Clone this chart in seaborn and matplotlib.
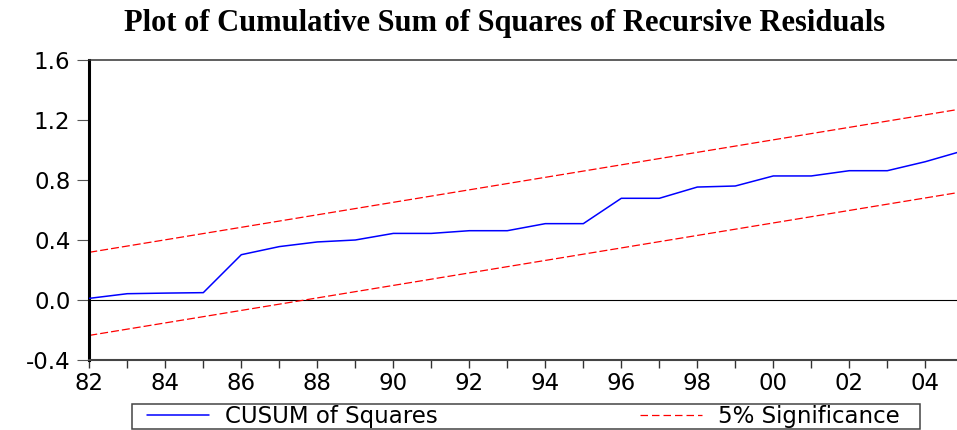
import numpy as np
import pandas as pd
import matplotlib
matplotlib.use("Agg")
import matplotlib.pyplot as plt
from matplotlib.lines import Line2D
from matplotlib.patches import Rectangle
from matplotlib.ticker import MultipleLocator, FuncFormatter
import seaborn as sns

# Data
years = [1982, 1983, 1984, 1985, 1986, 1987, 1988, 1989, 1990, 1991, 1992, 1993,
         1994, 1995, 1996, 1997, 1998, 1999, 2000, 2001, 2002, 2003, 2004, 2005]
cusum_sq = [0.011, 0.042, 0.046, 0.049, 0.302, 0.356, 0.387, 0.400, 0.444, 0.444, 0.462, 0.462,
            0.509, 0.509, 0.678, 0.678, 0.753, 0.760, 0.827, 0.827, 0.862, 0.862, 0.922, 0.995]
bound_years = [1982, 2005]
upper_bound = [0.318, 1.276]
lower_bound = [-0.236, 0.722]
y_ticks = [-0.4, 0.0, 0.4, 0.8, 1.2, 1.6]

sns.set_style("white")
plt.rcParams["font.family"] = ["DejaVu Sans"]
plt.rcParams["text.color"] = "black"

W, H = 957, 430
fig = plt.figure(figsize=(W / 100, H / 100), dpi=100)
ax = fig.add_axes([89.3 / W, 1 - 360 / H, 1 - 89.3 / W, 300 / H])

df = pd.DataFrame({"year": years, "value": cusum_sq})
bounds = pd.DataFrame({"year": bound_years, "upper": upper_bound, "lower": lower_bound})

ax.axhline(0, color="black", lw=0.8, zorder=1)
sns.lineplot(data=df, x="year", y="value", ax=ax, color="#0000ff", lw=1.1, zorder=3)
for col in ["upper", "lower"]:
    sns.lineplot(data=bounds, x="year", y=col, ax=ax, color="#ff0000", lw=0.9, zorder=2)
for ln in ax.lines[2:]:
    ln.set_dashes((6.4, 2.4))

ax.set_xlim(1982, 1982 + (W - 89.3) / 38)
ax.set_ylim(-0.4, 1.6)
ax.set_yticks(y_ticks)
ax.yaxis.set_major_formatter(FuncFormatter(lambda v, p: f"{v:.1f}"))
ax.xaxis.set_major_locator(MultipleLocator(2))
ax.xaxis.set_minor_locator(MultipleLocator(1))
ax.xaxis.set_major_formatter(FuncFormatter(lambda v, p: f"{int(round(v)) % 100:02d}"))
ax.set_xlabel("")
ax.set_ylabel("")

ax.tick_params(axis="y", which="major", direction="out", length=8.6, width=0.8,
               color="#555555", pad=5.0, labelsize=16.5, labelcolor="black", left=True)
ax.tick_params(axis="x", which="both", direction="out", length=5.8, width=1.0,
               color="#333333", pad=2.5, labelsize=16.5, labelcolor="black", bottom=True)

ax.spines["right"].set_visible(False)
ax.spines["left"].set_color("black")
ax.spines["left"].set_linewidth(2.2)
ax.spines["bottom"].set_color("#444444")
ax.spines["bottom"].set_linewidth(1.5)
ax.spines["top"].set_color("#333333")
ax.spines["top"].set_linewidth(1.1)

fig.text(505 / W, 1 - 23 / H, "Plot of Cumulative Sum of Squares of Recursive Residuals",
         ha="center", va="center", family="Liberation Serif", weight="bold", fontsize=22,
         color="black")

# legend box
fig.patches.append(Rectangle((132 / W, 1 - 429 / H), (920 - 132) / W, 25 / H,
                             transform=fig.transFigure, fill=False,
                             edgecolor="#444444", lw=1.1))
handles = [Line2D([], [], color="#0000ff", lw=1.1),
           Line2D([], [], color="#ff0000", lw=0.9, dashes=(6.0, 3.2))]
leg = fig.legend(handles, ["CUSUM of Squares", "5% Significance"], ncol=2,
                 loc="center", mode="expand",
                 bbox_to_anchor=(147 / W, 1 - 429 / H, (900 - 147) / W, 25 / H),
                 fontsize=16.5, frameon=False, handlelength=2.7,
                 handletextpad=0.7, borderpad=0, borderaxespad=0)

fig.savefig("out.png", dpi=100)
